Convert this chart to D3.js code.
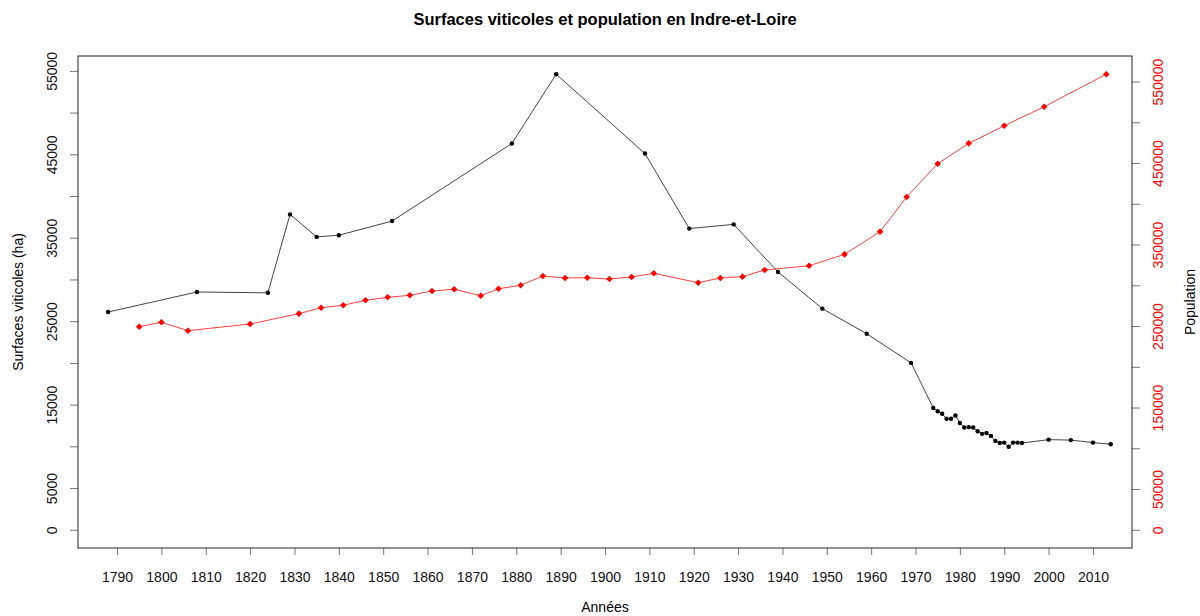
<!DOCTYPE html>
<html>
<head>
<meta charset="utf-8">
<script src="https://cdn.jsdelivr.net/npm/d3@7"></script>
<style>
    body { margin: 0; background: #fff; }
    svg { font-family: "Liberation Sans", Arial, sans-serif; }
</style>
</head>
<body>
<div id="chart"></div>
<script>
// Surfaces viticoles (ha), years and values
const surfYears = [1788, 1808, 1824, 1829, 1835, 1840, 1852, 1879, 1889, 1909, 1919, 1929, 1939, 1949, 1959, 1969,
    1974, 1975, 1976, 1977, 1978, 1979, 1980, 1981, 1982, 1983, 1984, 1985, 1986, 1987, 1988, 1989, 1990, 1991, 1992, 1993, 1994,
    2000, 2005, 2010, 2014];
const surfValues = [26100, 28500, 28400, 37800, 35100, 35300, 37000, 46300, 54600, 45100, 36100, 36600, 30900, 26500, 23500, 20000,
    14600, 14200, 13900, 13300, 13300, 13700, 12800, 12250, 12300, 12250, 11800, 11500, 11600, 11250, 10650, 10400, 10450, 9950, 10450, 10450, 10400,
    10800, 10750, 10450, 10250];

// Population
const popYears = [1795, 1800, 1806, 1820, 1831, 1836, 1841, 1846, 1851, 1856, 1861, 1866, 1872, 1876, 1881, 1886, 1891, 1896,
    1901, 1906, 1911, 1921, 1926, 1931, 1936, 1946, 1954, 1962, 1968, 1975, 1982, 1990, 1999, 2013];
const popValues = [249200, 254600, 244300, 252500, 265200, 272500, 275500, 281600, 285300, 287700, 293000, 295100, 287200, 295800,
    300000, 311400, 309000, 309300, 307700, 310200, 314700, 303200, 309000, 310600, 318800, 324000, 338000, 365800, 408300,
    449200, 474200, 495800, 519100, 559000];

const xTicks = d3.range(1790, 2011, 10);
const leftTicks = d3.range(0, 55001, 5000);
const rightTicks = d3.range(0, 550001, 50000);

const width = 1200, height = 616;
const box = { left: 78, right: 1132, top: 56, bottom: 548 };
const fontSize = "14px";

const surf = surfYears.map((y, i) => ({ year: y, value: surfValues[i] }));
const pop = popYears.map((y, i) => ({ year: y, value: popValues[i] }));

// R style: axis range extended by 4% on both sides
const xlim = [1790, 2010];
const xPad = (xlim[1] - xlim[0]) * 0.04;
const x = d3.scaleLinear()
    .domain([xlim[0] - xPad, xlim[1] + xPad])
    .range([box.left, box.right]);

const maxSurf = d3.max(surfValues);
const yLeft = d3.scaleLinear()
    .domain([-0.04 * maxSurf, 1.04 * maxSurf])
    .range([box.bottom, box.top]);

const maxPop = d3.max(popValues);
const yRight = d3.scaleLinear()
    .domain([-0.04 * maxPop, 1.04 * maxPop])
    .range([box.bottom, box.top]);

const svg = d3.select("#chart")
    .append("svg")
    .attr("width", width)
    .attr("height", height);

// Title
svg.append("text")
    .attr("x", (box.left + box.right) / 2)
    .attr("y", 25)
    .attr("text-anchor", "middle")
    .style("font-weight", "bold")
    .style("font-size", "16.5px")
    .text("Surfaces viticoles et population en Indre-et-Loire");

// Bottom axis
const xAxis = d3.axisBottom(x)
    .tickValues(xTicks)
    .tickSize(7)
    .tickPadding(17)
    .tickFormat(d3.format("d"));

const gx = svg.append("g")
    .attr("transform", `translate(0,${box.bottom})`)
    .call(xAxis);
gx.select(".domain").remove();
gx.selectAll(".tick line").attr("stroke", "#777");
gx.selectAll(".tick text")
    .style("font-size", fontSize)
    .attr("fill", "#111");

// Left axis
const gl = svg.append("g")
    .attr("transform", `translate(${box.left},0)`)
    .call(d3.axisLeft(yLeft)
        .tickValues(leftTicks)
        .tickSize(8)
        .tickFormat(d => (d === 0 || (d / 5000) % 2 === 1) ? d : ""));
gl.select(".domain").remove();
gl.selectAll(".tick line").attr("stroke", "#777");
gl.selectAll(".tick text")
    .attr("x", null)
    .attr("transform", "translate(-26,0) rotate(-90)")
    .attr("text-anchor", "middle")
    .attr("dy", "0.35em")
    .style("font-size", fontSize)
    .attr("fill", "#111");

// Right axis
const gr = svg.append("g")
    .attr("transform", `translate(${box.right},0)`)
    .call(d3.axisRight(yRight)
        .tickValues(rightTicks)
        .tickSize(8)
        .tickFormat(d => (d === 0 || (d / 50000) % 2 === 1) ? d : ""));
gr.select(".domain").remove();
gr.selectAll(".tick line").attr("stroke", "#777");
gr.selectAll(".tick text")
    .attr("x", null)
    .attr("transform", "translate(26,0) rotate(-90)")
    .attr("text-anchor", "middle")
    .attr("dy", "0.35em")
    .style("font-size", fontSize)
    .attr("fill", "#ff0000");

// Plot box
svg.append("rect")
    .attr("x", box.left)
    .attr("y", box.top)
    .attr("width", box.right - box.left)
    .attr("height", box.bottom - box.top)
    .attr("fill", "none")
    .attr("stroke", "#222");

// Axis titles
svg.append("text")
    .attr("transform", `translate(18,${(box.top + box.bottom) / 2}) rotate(-90)`)
    .attr("text-anchor", "middle")
    .attr("dy", "0.35em")
    .style("font-size", fontSize)
    .text("Surfaces viticoles (ha)");

svg.append("text")
    .attr("transform", `translate(1190,${(box.top + box.bottom) / 2}) rotate(-90)`)
    .attr("text-anchor", "middle")
    .attr("dy", "0.35em")
    .style("font-size", fontSize)
    .text("Population");

svg.append("text")
    .attr("x", (box.left + box.right) / 2)
    .attr("y", 612)
    .attr("text-anchor", "middle")
    .style("font-size", fontSize)
    .text("Années");

// Surfaces line + points
const lineSurf = d3.line()
    .x(d => x(d.year))
    .y(d => yLeft(d.value));

svg.append("path")
    .datum(surf)
    .attr("fill", "none")
    .attr("stroke", "#444")
    .attr("stroke-width", 1)
    .attr("d", lineSurf);

svg.append("g")
    .selectAll("circle")
    .data(surf)
    .enter()
    .append("circle")
    .attr("cx", d => x(d.year))
    .attr("cy", d => yLeft(d.value))
    .attr("r", 2.2)
    .attr("fill", "#000");

// Population line + points
const linePop = d3.line()
    .x(d => x(d.year))
    .y(d => yRight(d.value));

svg.append("path")
    .datum(pop)
    .attr("fill", "none")
    .attr("stroke", "#ff4040")
    .attr("stroke-width", 1)
    .attr("d", linePop);

svg.append("g")
    .selectAll("path")
    .data(pop)
    .enter()
    .append("path")
    .attr("d", "M0,-3.3L3.3,0L0,3.3L-3.3,0Z")
    .attr("transform", d => `translate(${x(d.year)},${yRight(d.value)})`)
    .attr("fill", "#ff0000");
</script>
</body>
</html>
